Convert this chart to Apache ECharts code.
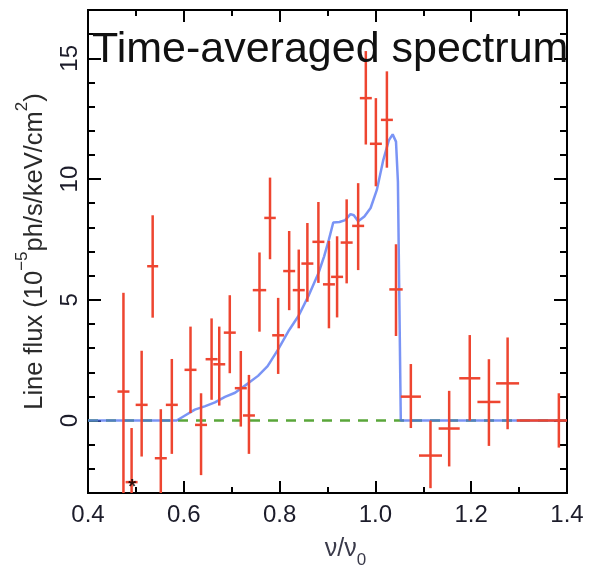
<!DOCTYPE html>
<html>
<head>
<meta charset="utf-8">
<script src="https://cdn.jsdelivr.net/npm/echarts@6/dist/echarts.min.js"></script>
<style>
html,body{margin:0;padding:0;background:#fff;}
#chart{width:591px;height:567px;}
</style>
</head>
<body>
<div id="chart"></div>
<script>
// ---- Data ----
const pointX   = [0.474, 0.491, 0.512, 0.535, 0.552, 0.575, 0.614, 0.636, 0.658, 0.674, 0.696, 0.719, 0.736, 0.758, 0.780, 0.797, 0.820, 0.840, 0.858, 0.881, 0.903, 0.920, 0.940, 0.964, 0.980, 1.001, 1.024, 1.043, 1.074, 1.115, 1.154, 1.197, 1.237, 1.276, 1.383];
const pointY   = [1.2, -2.55, 0.65, 6.39, -1.56, 0.65, 2.1, -0.18, 2.54, 2.33, 3.64, 1.34, 0.21, 5.4, 8.39, 3.53, 6.19, 5.4, 6.5, 7.4, 5.64, 5.95, 7.37, 8.06, 13.35, 11.46, 12.45, 5.43, 0.99, -1.45, -0.33, 1.75, 0.77, 1.54, 0];
const pointLow = [-5, -5, -1.49, 4.26, -5, -1.38, 0.31, -2.26, 0.86, 0.62, 1.96, -0.25, -1.38, 3.68, 6.68, 1.93, 4.57, 3.82, 4.92, 5.7, 3.82, 4.27, 5.68, 6.23, 11.43, 9.7, 10.47, 3.5, -0.31, -2.8, -1.9, 0, -1.05, -0.36, -1.12];
const pointHigh= [5.29, -0.31, 2.89, 8.5, 0.47, 2.55, 3.89, 1.13, 4.23, 3.89, 5.19, 2.88, 1.89, 6.96, 10.06, 5.08, 7.85, 7.08, 8.18, 9.05, 7.44, 7.63, 9.16, 9.83, 15.3, 13.35, 14.46, 7.3, 2.34, 0, 1.23, 3.54, 2.54, 3.44, 1.13];
const pointXErr= [0.0125, 0.0125, 0.0125, 0.0115, 0.0125, 0.0125, 0.0125, 0.0125, 0.0125, 0.0125, 0.0125, 0.0125, 0.0125, 0.014, 0.012, 0.0125, 0.0125, 0.0125, 0.0125, 0.0125, 0.0125, 0.0125, 0.0125, 0.0125, 0.0125, 0.0125, 0.0125, 0.014, 0.021, 0.024, 0.022, 0.022, 0.024, 0.024, 0.088];

const modelX = [0.4, 0.585, 0.6, 0.623, 0.645, 0.665, 0.686, 0.707, 0.735, 0.755, 0.775, 0.797, 0.82, 0.84, 0.86, 0.881, 0.893, 0.903, 0.912, 0.925, 0.937, 0.948, 0.955, 0.964, 0.977, 0.99, 1.003, 1.016, 1.028, 1.036, 1.043, 1.047, 1.053, 1.4];
const modelY = [0, 0, 0.18, 0.45, 0.6, 0.75, 0.98, 1.15, 1.55, 1.85, 2.25, 2.95, 3.75, 4.35, 5.15, 6.1, 6.8, 7.5, 8.2, 8.22, 8.3, 8.55, 8.5, 8.25, 8.45, 8.8, 9.55, 10.75, 11.6, 11.85, 11.55, 9.9, 0, 0];

const zeroLineX = [0.4, 1.4];
const zeroLineY = [0, 0];

const starPoint = [[0.49, -2.55]];

const xTickLabels = [0.4, 0.6, 0.8, 1.0, 1.2, 1.4];
const yTickLabels = [0, 5, 10, 15];

const titleText = 'Time-averaged spectrum';

// ---- Chart ----
const X_MIN = 0.4, X_MAX = 1.4, Y_MIN = -3, Y_MAX = 17;
const chart = echarts.init(document.getElementById('chart'), null, {renderer: 'canvas'});

const errData = pointX.map((x, i) => [x, pointY[i], pointLow[i], pointHigh[i], pointXErr[i]]);
const modelData = modelX.map((x, i) => [x, modelY[i]]);
const zeroData = zeroLineX.map((x, i) => [x, zeroLineY[i]]);

const RED = '#ee4530';
const AX = '#000';
const FONT = '"Liberation Sans", Arial, Helvetica, sans-serif';

function renderErr(params, api) {
  const x = api.value(0), y = api.value(1), lo = api.value(2), hi = api.value(3), xe = api.value(4);
  const top = api.coord([x, Math.min(hi, Y_MAX)]);
  const bot = api.coord([x, Math.max(lo, Y_MIN)]);
  const l = api.coord([Math.max(x - xe, X_MIN), y]);
  const r = api.coord([Math.min(x + xe, X_MAX), y]);
  const st = {stroke: RED, lineWidth: 2.5};
  return {
    type: 'group',
    children: [
      {type: 'line', shape: {x1: top[0], y1: top[1], x2: bot[0], y2: bot[1]}, style: st},
      {type: 'line', shape: {x1: l[0], y1: l[1], x2: r[0], y2: r[1]}, style: st}
    ]
  };
}

const minorYAxis = (pos) => ({
  type: 'value', position: pos, min: Y_MIN, max: Y_MAX, interval: 1,
  axisLine: {show: true, onZero: false, lineStyle: {color: AX, width: 2}},
  axisTick: {show: true, inside: true, length: 7, lineStyle: {color: AX, width: 2}},
  axisLabel: {show: false}, splitLine: {show: false}
});
const majorYAxis = (pos, withLabels) => ({
  type: 'value', position: pos, min: Y_MIN, max: Y_MAX, interval: 1,
  axisLine: {show: true, onZero: false, lineStyle: {color: AX, width: 2}},
  axisTick: {show: true, inside: true, length: 13, customValues: yTickLabels, lineStyle: {color: AX, width: 2}},
  axisLabel: withLabels ? {show: true, customValues: yTickLabels, rotate: 90, fontSize: 24, fontFamily: FONT, color: '#1c1c2a', margin: 6} : {show: false},
  splitLine: {show: false},
  name: withLabels ? '{n|Line flux (10}{s|−5}{n|ph/s/keV/cm}{s|2}{n|)}' : '',
  nameLocation: 'middle', nameRotate: 90, nameGap: 40,
  nameTextStyle: {
    rich: {
      n: {fontSize: 25.5, fontFamily: FONT, color: '#2a2a2a', lineHeight: 34, verticalAlign: 'bottom'},
      s: {fontSize: 17, fontFamily: FONT, color: '#2a2a2a', lineHeight: 17, verticalAlign: 'top'}
    }
  }
});
const xAxisDef = (pos, withLabels) => ({
  type: 'value', position: pos, min: X_MIN, max: X_MAX, interval: 0.2,
  axisLine: {show: true, onZero: false, lineStyle: {color: AX, width: 2}},
  axisTick: {show: true, inside: true, length: 12, lineStyle: {color: AX, width: 2}},
  minorTick: {show: true, splitNumber: 2, length: 6, lineStyle: {color: AX, width: 2}},
  axisLabel: withLabels ? {show: true, fontSize: 24, fontFamily: FONT, color: '#1c1c2a', margin: 10,
    formatter: v => xTickLabels.some(t => Math.abs(t - v) < 1e-6) ? v.toFixed(1) : ''} : {show: false},
  splitLine: {show: false},
  name: withLabels ? '{n|ν/ν}{b|0}' : '',
  nameLocation: 'middle', nameGap: 44,
  nameTextStyle: {
    padding: [0, 0, 0, 36],
    rich: {
      n: {fontSize: 25, fontFamily: FONT, color: '#3a3a4a', lineHeight: 22, verticalAlign: 'top'},
      b: {fontSize: 17, fontFamily: FONT, color: '#3a3a4a', lineHeight: 32, verticalAlign: 'bottom'}
    }
  }
});

const option = {
  backgroundColor: '#fff',
  animation: false,
  grid: {left: 88, top: 10, width: 479, height: 483, containLabel: false, outerBoundsMode: 'none'},
  xAxis: [xAxisDef('bottom', true), xAxisDef('top', false)],
  yAxis: [minorYAxis('left'), majorYAxis('left', true), minorYAxis('right'), majorYAxis('right', false)],
  graphic: [{
    type: 'text', left: 92, top: 29, z: 100,
    style: {
      text: titleText, font: '43px ' + FONT, fill: '#111',
      shadowColor: 'rgba(0,0,0,0.35)', shadowBlur: 4, shadowOffsetX: 1, shadowOffsetY: 2
    }
  }],
  series: [
    {
      name: 'zero', type: 'line', data: zeroData, xAxisIndex: 0, yAxisIndex: 0,
      showSymbol: false, silent: true, z: 1,
      lineStyle: {color: '#5aa63a', width: 2.5, type: [10, 8]}
    },
    {
      name: 'model', type: 'line', data: modelData, xAxisIndex: 0, yAxisIndex: 0,
      showSymbol: false, silent: true, z: 2,
      lineStyle: {color: '#4d70f2', width: 2.5, opacity: 0.75}
    },
    {
      name: 'data', type: 'custom', data: errData, xAxisIndex: 0, yAxisIndex: 0,
      renderItem: renderErr, encode: {x: 0, y: 1}, z: 3
    },
    {
      name: 'star', type: 'scatter', data: starPoint, xAxisIndex: 0, yAxisIndex: 0,
      symbolSize: 1, itemStyle: {color: 'rgba(0,0,0,0)'}, z: 4,
      label: {show: true, formatter: '*', position: 'inside', fontSize: 20, fontWeight: 'bold', color: '#000', offset: [1, 5], fontFamily: FONT}
    }
  ]
};
chart.setOption(option);
</script>
</body>
</html>
